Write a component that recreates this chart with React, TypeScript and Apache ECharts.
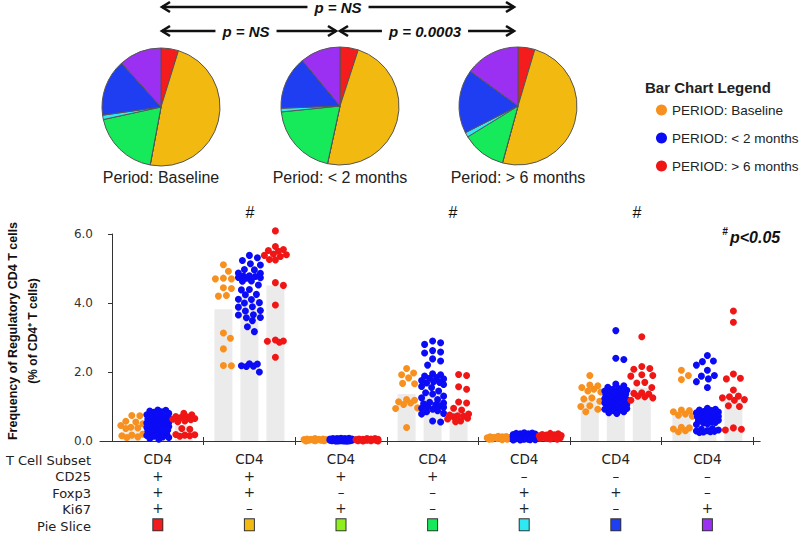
import React, { useEffect, useRef } from 'react';
import * as echarts from 'echarts';

// ---------- data ----------
const periods = ['PERIOD: Baseline', 'PERIOD: < 2 months', 'PERIOD: > 6 months'];
const periodColors = ['#f7901e', '#0b0bf5', '#f01616'];

const subsetRow = ['CD4', 'CD4', 'CD4', 'CD4', 'CD4', 'CD4', 'CD4'];
const cd25Row = ['+', '+', '+', '+', '–', '–', '–'];
const foxp3Row = ['+', '+', '–', '–', '+', '+', '–'];
const ki67Row = ['+', '–', '+', '–', '+', '–', '+'];
const rowLabels = ['T Cell Subset', 'CD25', 'Foxp3', 'Ki67', 'Pie Slice'];

const sliceNames = [
  'CD25+Foxp3+Ki67+', 'CD25+Foxp3+Ki67-', 'CD25+Foxp3-Ki67+', 'CD25+Foxp3-Ki67-',
  'CD25-Foxp3+Ki67+', 'CD25-Foxp3+Ki67-', 'CD25-Foxp3-Ki67+',
];
const sliceColors = ['#f41c1c', '#f2b910', '#8fef1e', '#16ea5a', '#2ee8f2', '#1f3ef2', '#9b30f2'];

const pieTitles = ['Period: Baseline', 'Period: < 2 months', 'Period: > 6 months'];
const pieBaseline = [4.8, 48.3, 0, 18.7, 1.2, 15.6, 11.7];
const pieUnder2 = [5.0, 48.4, 0, 20.0, 1.0, 14.6, 11.0];
const pieOver6 = [4.6, 49.7, 0, 12.0, 1.3, 17.5, 15.0];

const barBaseline = [0.40, 3.82, 0.03, 1.36, 0.09, 1.25, 0.80];
const barUnder2 = [0.45, 4.20, 0.03, 1.45, 0.12, 1.15, 0.75];
const barOver6 = [0.45, 4.51, 0.03, 0.88, 0.12, 1.55, 1.20];

const dotsBaseline = [
  [0.74, 0.73, 0.57, 0.55, 0.50, 0.45, 0.40, 0.38, 0.36, 0.20, 0.17, 0.15, 0.12, 0.10],
  [5.11, 4.92, 4.72, 4.70, 4.70, 4.44, 4.42, 4.22, 4.20, 3.13, 2.98, 2.67, 2.19, 2.18],
  [0.07, 0.06, 0.06, 0.05, 0.05, 0.04, 0.04, 0.03, 0.03, 0.02, 0.02, 0.01, 0.01, 0.00],
  [2.10, 1.97, 1.92, 1.83, 1.67, 1.66, 1.20, 1.18, 1.14, 1.10, 1.06, 0.96, 0.94, 0.39],
  [0.14, 0.13, 0.12, 0.12, 0.11, 0.10, 0.09, 0.08, 0.08, 0.07, 0.06, 0.05, 0.05, 0.04],
  [1.90, 1.62, 1.60, 1.55, 1.50, 1.45, 1.42, 1.25, 1.22, 1.15, 1.02, 1.00, 0.92, 0.85],
  [2.05, 1.90, 1.78, 0.90, 0.88, 0.85, 0.78, 0.75, 0.72, 0.40, 0.38, 0.35, 0.30, 0.27],
];
const dotsUnder2 = [
  [0.90, 0.89, 0.87, 0.85, 0.83, 0.80, 0.76, 0.74, 0.71, 0.69, 0.66, 0.64, 0.62, 0.60, 0.57, 0.55,
    0.54, 0.52, 0.50, 0.49, 0.47, 0.45, 0.44, 0.42, 0.40, 0.39, 0.37, 0.35, 0.34, 0.32, 0.30, 0.28,
    0.27, 0.25, 0.22, 0.20, 0.18, 0.16, 0.14, 0.12, 0.10, 0.07, 0.05],
  [5.38, 5.31, 5.23, 5.14, 5.10, 4.97, 4.96, 4.87, 4.86, 4.79, 4.78, 4.77, 4.74, 4.73, 4.72, 4.64,
    4.63, 4.52, 4.39, 4.38, 4.25, 4.24, 4.11, 4.10, 4.01, 4.00, 3.89, 3.88, 3.78, 3.77, 3.66, 3.65,
    3.58, 3.57, 3.49, 3.31, 3.17, 2.24, 2.23, 2.18, 2.17, 2.16, 2.00],
  [0.08, 0.08, 0.07, 0.07, 0.07, 0.06, 0.06, 0.06, 0.06, 0.05, 0.05, 0.05, 0.05, 0.05, 0.04, 0.04,
    0.04, 0.04, 0.04, 0.04, 0.03, 0.03, 0.03, 0.03, 0.03, 0.03, 0.02, 0.02, 0.02, 0.02, 0.02, 0.02,
    0.01, 0.01, 0.01, 0.01, 0.01, 0.01, 0.00, 0.00, 0.00, 0.00, 0.00],
  [2.90, 2.85, 2.80, 2.62, 2.58, 2.55, 2.38, 2.32, 2.20, 1.95, 1.92, 1.88, 1.84, 1.82, 1.80, 1.75,
    1.72, 1.70, 1.68, 1.64, 1.58, 1.55, 1.45, 1.40, 1.36, 1.30, 1.25, 1.20, 1.12, 1.10, 1.08, 1.05,
    1.02, 1.00, 0.98, 0.95, 0.92, 0.88, 0.85, 0.80, 0.78, 0.58, 0.55],
  [0.24, 0.23, 0.22, 0.21, 0.21, 0.20, 0.19, 0.19, 0.18, 0.18, 0.17, 0.17, 0.16, 0.16, 0.15, 0.15,
    0.14, 0.14, 0.14, 0.13, 0.13, 0.12, 0.12, 0.12, 0.11, 0.11, 0.10, 0.10, 0.10, 0.09, 0.09, 0.08,
    0.08, 0.07, 0.07, 0.06, 0.06, 0.05, 0.05, 0.04, 0.04, 0.03, 0.03],
  [3.20, 2.40, 2.36, 1.65, 1.60, 1.56, 1.52, 1.50, 1.47, 1.45, 1.42, 1.40, 1.38, 1.36, 1.34, 1.31,
    1.30, 1.28, 1.26, 1.25, 1.23, 1.21, 1.20, 1.18, 1.16, 1.15, 1.13, 1.11, 1.10, 1.08, 1.06, 1.04,
    1.02, 1.00, 0.98, 0.96, 0.94, 0.92, 0.90, 0.88, 0.85, 0.82, 0.80],
  [2.48, 2.32, 2.30, 2.20, 2.05, 1.90, 1.88, 1.80, 1.72, 1.55, 0.95, 0.92, 0.90, 0.88, 0.86, 0.84,
    0.82, 0.80, 0.78, 0.76, 0.74, 0.72, 0.70, 0.68, 0.66, 0.64, 0.62, 0.60, 0.58, 0.56, 0.54, 0.52,
    0.50, 0.48, 0.36, 0.34, 0.32, 0.30, 0.29, 0.28, 0.27, 0.26, 0.25],
];
const dotsOver6 = [
  [0.80, 0.76, 0.71, 0.70, 0.68, 0.65, 0.63, 0.62, 0.58, 0.56, 0.36, 0.34, 0.19, 0.18, 0.17, 0.15, 0.14],
  [6.09, 5.64, 5.55, 5.52, 5.50, 5.42, 5.40, 5.38, 5.35, 5.26, 5.25, 4.59, 4.51, 3.94, 2.93, 2.90, 2.89, 2.86, 2.43],
  [0.07, 0.07, 0.06, 0.06, 0.05, 0.05, 0.04, 0.04, 0.04, 0.03, 0.03, 0.02, 0.02, 0.01, 0.01, 0.00, 0.00],
  [1.93, 1.90, 1.57, 1.50, 1.13, 1.10, 0.95, 0.90, 0.78, 0.75, 0.73, 0.72, 0.70, 0.66, 0.64, 0.58, 0.56],
  [0.22, 0.21, 0.19, 0.18, 0.17, 0.16, 0.15, 0.14, 0.13, 0.12, 0.11, 0.10, 0.09, 0.08, 0.07, 0.06, 0.05],
  [3.02, 2.16, 2.10, 2.08, 1.92, 1.90, 1.88, 1.70, 1.68, 1.55, 1.40, 1.38, 1.36, 1.30, 1.28, 1.25, 1.18],
  [3.77, 3.44, 1.94, 1.82, 1.80, 1.48, 1.30, 1.28, 1.25, 1.20, 1.18, 1.02, 1.00, 0.38, 0.34, 0.32],
];

const yTicks = [0, 2, 4, 6];
const sigCategories = [1, 3, 5];

// ---------- layout ----------
const GRID_LEFT = 100;
const GRID_TOP = 234;
const GRID_H = 209;
const UNIT = 91.6;
const X_MIN = -12 / UNIT;
const X_MAX = 7 + 7 / UNIT;
const GRID_W = (X_MAX - X_MIN) * UNIT;
const Y_MAX = 6;
const PX_PER_Y = GRID_H / Y_MAX;
const GROUP_SHIFT = 26 / UNIT;
const MAX_HALF = 11;
const DOT_GAP = 8;
const ROW_H = 16.4;
const FONT = "'Liberation Sans', Arial, sans-serif";
const FONT2 = "'DejaVu Sans', Verdana, sans-serif";

function swarm(values: number[], center: number): number[][] {
  const placed: { x: number; y: number }[] = [];
  const out: number[][] = [];
  for (const v of values) {
    const py = v * PX_PER_Y;
    let best = 0;
    let bestScore = -1;
    for (let k = 0; k <= 2 * MAX_HALF; k++) {
      const off = k % 2 === 1 ? (k + 1) / 2 : -k / 2;
      let minD = Infinity;
      for (const p of placed) {
        const d = Math.hypot(p.x - off, p.y - py);
        if (d < minD) minD = d;
      }
      if (minD >= DOT_GAP) { best = off; bestScore = Infinity; break; }
      if (minD > bestScore) { bestScore = minD; best = off; }
    }
    placed.push({ x: best, y: py });
    out.push([center + best / UNIT, v]);
  }
  return out;
}

function arrow(x1: number, x2: number, y: number): any[] {
  const st = { stroke: '#111', lineWidth: 2.6, fill: 'none', lineJoin: 'miter' };
  return [
    { type: 'polyline', z: 5, shape: { points: [[x1 + 1, y], [x2 - 1, y]] }, style: st },
    { type: 'polyline', z: 5, shape: { points: [[x1 + 9, y - 5], [x1 + 1, y], [x1 + 9, y + 5]] }, style: st },
    { type: 'polyline', z: 5, shape: { points: [[x2 - 9, y - 5], [x2 - 1, y], [x2 - 9, y + 5]] }, style: st },
  ];
}

function pText(text: string, x: number, y: number): any {
  return {
    type: 'text', z: 10, x, y,
    style: {
      text, fontSize: 15, fontWeight: 'bold', fontStyle: 'italic', fontFamily: FONT,
      fill: '#111', align: 'center', verticalAlign: 'middle', backgroundColor: '#fff', padding: [2, 7],
    },
  };
}

export default function App() {
  const ref = useRef<HTMLDivElement>(null);
  useEffect(() => {
    if (!ref.current) return;
    const chart = echarts.init(ref.current, undefined, { renderer: 'svg' });

    const bars = [barBaseline, barUnder2, barOver6];
    const dots = [dotsBaseline, dotsUnder2, dotsOver6];
    const pies = [pieBaseline, pieUnder2, pieOver6];
    const pieCenters = [[161, 107], [340, 106], [518, 106]];

    const barData: number[][] = [];
    bars.forEach((arr, g) => arr.forEach((v, i) => barData.push([i + 0.5 + (g - 1) * GROUP_SHIFT, v])));

    const scatterSeries = dots.map((groups, g) => ({
      type: 'scatter', name: periods[g], z: 3, symbol: 'circle', symbolSize: 7,
      itemStyle: { color: periodColors[g], opacity: 1 }, clip: false, silent: true,
      data: groups.flatMap((vals, i) => swarm(vals, i + 0.5 + (g - 1) * GROUP_SHIFT)),
    }));

    const pieSeries = pies.map((vals, p) => ({
      type: 'pie', center: pieCenters[p], radius: 59, startAngle: 90, clockwise: true,
      silent: true, label: { show: false }, labelLine: { show: false },
      itemStyle: { borderColor: '#555', borderWidth: 1 },
      data: vals.map((v, i) => ({ name: sliceNames[i], value: v, itemStyle: { color: sliceColors[i] } })),
    }));

    const catCenters = subsetRow.map((_, i) => i + 0.5);
    const boundaries = subsetRow.map((_, i) => i + 1);
    const rich: any = {};
    sliceColors.forEach((c, i) => {
      rich['s' + i] = { width: 9, height: 11, backgroundColor: c, borderColor: '#333', borderWidth: 1 };
    });

    const graphic: any[] = [];
    graphic.push(...arrow(161, 515, 7), pText('p = NS', 338, 7));
    graphic.push(...arrow(161, 337, 31), pText('p = NS', 246, 31));
    graphic.push(...arrow(339, 515, 31), pText('p = 0.0003', 425, 31));
    pieTitles.forEach((t, p) => graphic.push({
      type: 'text', x: pieCenters[p][0], y: 177,
      style: { text: t, fontSize: 16, fontFamily: FONT, fill: '#222', align: 'center', verticalAlign: 'middle' },
    }));
    graphic.push({
      type: 'text', x: 645, y: 87,
      style: { text: 'Bar Chart Legend', fontSize: 15, fontWeight: 'bold', fontFamily: FONT, fill: '#222', align: 'left', verticalAlign: 'middle' },
    });
    rowLabels.forEach((t, r) => graphic.push({
      type: 'text', x: 91, y: 460.5 + r * ROW_H,
      style: { text: t, fontSize: 13, fontFamily: FONT2, fill: '#222', align: 'right', verticalAlign: 'middle' },
    }));
    graphic.push({
      type: 'text', x: 13, y: 331, rotation: Math.PI / 2,
      style: { text: 'Frequency of Regulatory CD4 T cells', fontSize: 12.5, fontWeight: 'bold', fontFamily: FONT, fill: '#111', align: 'center', verticalAlign: 'middle' },
    });
    graphic.push({
      type: 'text', x: 33, y: 331, rotation: Math.PI / 2,
      style: { text: '(% of CD4\u207A T cells)', fontSize: 12, fontWeight: 'bold', fontFamily: FONT, fill: '#111', align: 'center', verticalAlign: 'middle' },
    });
    const hashX = [250, 453, 637];
    sigCategories.forEach((c, k) => graphic.push({
      type: 'text', x: hashX[k], y: 212,
      style: { text: '#', fontSize: 16, fontFamily: FONT, fill: '#111', align: 'center', verticalAlign: 'middle' },
    }));
    graphic.push({
      type: 'text', x: 725, y: 231,
      style: { text: '#', fontSize: 10, fontWeight: 'bold', fontStyle: 'italic', fontFamily: FONT, fill: '#111', align: 'center', verticalAlign: 'middle' },
    });
    graphic.push({
      type: 'text', x: 730, y: 237,
      style: { text: 'p<0.05', fontSize: 16, fontWeight: 'bold', fontStyle: 'italic', fontFamily: FONT, fill: '#111', align: 'left', verticalAlign: 'middle' },
    });

    chart.setOption({
      animation: false,
      backgroundColor: '#fff',
      grid: { left: GRID_LEFT, top: GRID_TOP, width: GRID_W, height: GRID_H },
      legend: {
        orient: 'vertical', left: 651, top: 98, itemWidth: 11, itemHeight: 11, itemGap: 14,
        icon: 'circle', data: periods, selectedMode: false,
        textStyle: { fontSize: 13.5, fontFamily: FONT, color: '#222' },
      },
      xAxis: [
        {
          type: 'value', min: X_MIN, max: X_MAX, position: 'bottom',
          splitLine: { show: false },
          axisLine: { show: true, onZero: false, lineStyle: { color: '#333', width: 1 } },
          axisTick: { show: true, customValues: boundaries, length: 4, lineStyle: { color: '#333' } },
          axisLabel: {
            show: true, customValues: catCenters, margin: 10, lineHeight: ROW_H, fontSize: 13.5,
            fontFamily: FONT2, color: '#222', rich,
            formatter: (val: number) => {
              const i = Math.round(val - 0.5);
              if (i < 0 || i > 6) return '';
              return [subsetRow[i], cd25Row[i], foxp3Row[i], ki67Row[i], '{s' + i + '| }'].join('\n');
            },
          },
        },
        {
          type: 'value', min: X_MIN, max: X_MAX, position: 'bottom', offset: 0,
          splitLine: { show: false }, axisLine: { show: false }, axisLabel: { show: false },
          axisTick: { show: true, inside: true, customValues: boundaries, length: 4, lineStyle: { color: '#333' } },
        },
      ],
      yAxis: {
        type: 'value', min: 0, max: Y_MAX, interval: 2,
        splitLine: { show: false },
        axisLine: { show: true, lineStyle: { color: '#333' } },
        axisTick: { show: true, length: 4, lineStyle: { color: '#333' } },
        axisLabel: { formatter: (v: number) => (yTicks.includes(v) ? v.toFixed(1) : ''), fontSize: 12, fontFamily: FONT2, color: '#333', margin: 7 },
      },
      series: [
        {
          type: 'bar', barWidth: 18, z: 1, silent: true, data: barData,
          itemStyle: { color: '#ebebeb' },
        },
        ...scatterSeries,
        ...pieSeries,
      ],
      graphic,
    });
    return () => chart.dispose();
  }, []);
  return <div ref={ref} style={{ position: 'fixed', left: 0, top: 0, width: 800, height: 533, background: '#fff' }} />;
}
